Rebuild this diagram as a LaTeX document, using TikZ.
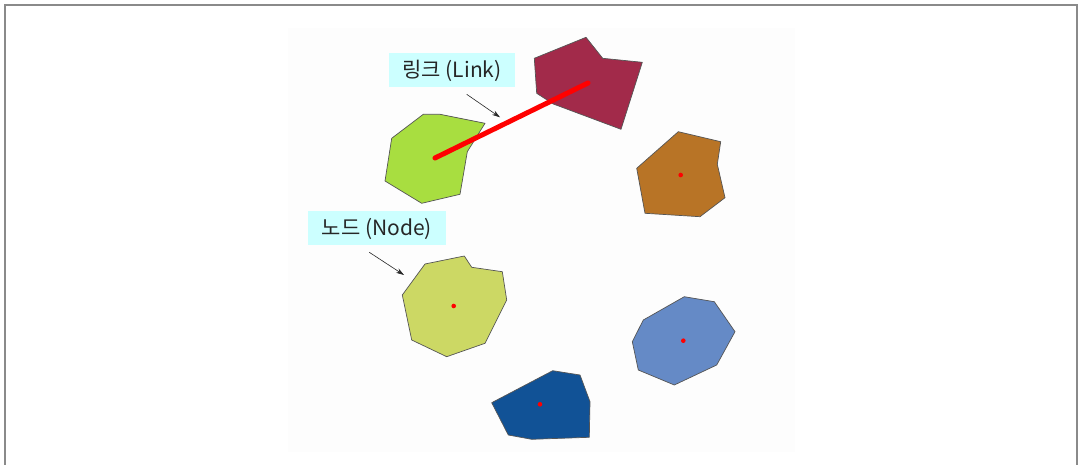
\documentclass[tikz,border=0pt]{standalone}
\usepackage{fontspec}
\newfontfamily\kr{Noto Sans CJK KR}
\usetikzlibrary{arrows.meta}
\definecolor{frameg}{HTML}{8A8A8A}
\definecolor{bgpic}{HTML}{FDFDFD}
\definecolor{labcyan}{HTML}{CCFFFF}
\definecolor{maroon}{HTML}{A22A4A}
\definecolor{lime}{HTML}{A8DE40}
\definecolor{olivey}{HTML}{CCD864}
\definecolor{ochre}{HTML}{B87426}
\definecolor{skyb}{HTML}{658AC6}
\definecolor{navyb}{HTML}{115296}
\definecolor{edge}{HTML}{555555}
\tikzset{
  blob/.style={draw=edge, line width=0.7pt, line join=round},
  cdot/.style={fill=red, draw=none},
  lab/.style={fill=labcyan, font=\kr\fontsize{21}{24}\selectfont, inner sep=0pt, minimum height=34pt, text=black!85},
  pointer/.style={draw=black!85, line width=0.6pt, -{Stealth[length=8pt,width=5pt]}},
  linkline/.style={draw=red, line width=5pt, line cap=round}
}
\begin{document}
\begin{tikzpicture}[x=1pt,y=-1pt]
\useasboundingbox (0,0) rectangle (1079,465);
\fill[white] (0,0) rectangle (1079,465);
\fill[bgpic] (288,28) rectangle (795,452);
% frame
\draw[frameg, line width=2.5pt] (5,466) -- (5,5) -- (1077,5) -- (1077,466);

% polygons
\filldraw[blob, fill=maroon] (534.3,58.3) -- (586,37.3) -- (602.7,58.3) -- (642.3,62.3) -- (621,129.3) -- (553.3,104) -- (536.7,93.3) -- cycle;
\filldraw[blob, fill=lime] (423.3,114.3) -- (440,114.3) -- (485,123.3) -- (467.3,151.7) -- (460,194.3) -- (421.7,203.3) -- (385,181) -- (391.7,138.3) -- cycle;
\filldraw[blob, fill=olivey] (425,264) -- (464.3,256) -- (471.7,267.3) -- (502.3,271.7) -- (506.7,300) -- (485,343.3) -- (446.7,356.7) -- (411.7,340) -- (402.3,295) -- cycle;
\filldraw[blob, fill=ochre] (678.3,131.7) -- (720.7,141.7) -- (717.3,164.3) -- (725,197.7) -- (700,216.7) -- (645,213.3) -- (636.7,168.3) -- cycle;
\filldraw[blob, fill=skyb] (684.3,296.7) -- (714.3,301.7) -- (735,331.7) -- (716.7,365) -- (674.3,385) -- (638.3,370) -- (632.3,341.7) -- (643.3,320) -- cycle;
\filldraw[blob, fill=navyb] (491.7,402.7) -- (552.7,370.7) -- (580,375) -- (590,401.7) -- (589.3,437.3) -- (531.7,439.3) -- (508.3,435) -- cycle;

% centre points
\coordinate (cLime) at (435,158);
\coordinate (cMaroon) at (588,83);
\coordinate (cOlive) at (453.7,306);
\coordinate (cOchre) at (680.7,175);
\coordinate (cSky) at (683.3,340.7);
\coordinate (cNavy) at (540,404.3);

\draw[linkline] (cLime) -- (cMaroon);
\foreach \c in {cOlive,cOchre,cSky,cNavy}
  \fill[cdot] (\c) circle (2.3pt);

% labels
\node[lab, minimum width=126pt] (linkLabel) at (452,70.5) {링크 (Link)};
\node[lab, minimum width=138pt] (nodeLabel) at (377,228.5) {노드 (Node)};

\coordinate (linkFrom) at (466.7,94.3);
\coordinate (linkTo) at (500,117.3);
\coordinate (nodeFrom) at (369.3,252.3);
\coordinate (nodeTo) at (404,275);
\draw[pointer] (linkFrom) -- (linkTo);
\draw[pointer] (nodeFrom) -- (nodeTo);
\end{tikzpicture}
\end{document}
